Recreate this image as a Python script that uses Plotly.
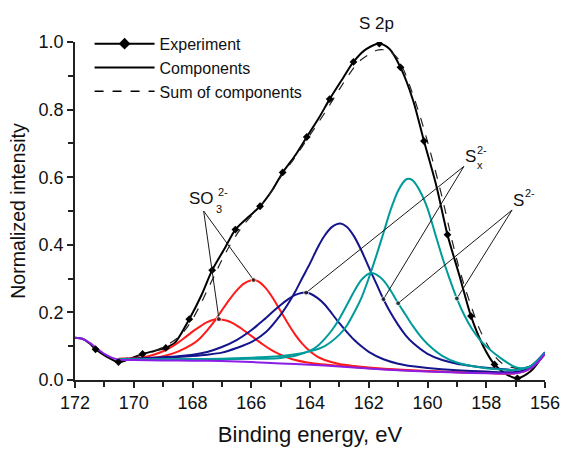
import plotly.graph_objects as go

# ---------------- data ----------------
bg_x = [172.0, 171.75, 171.5, 171.25, 171.0, 170.75, 170.5, 170.0, 169.0, 168.0, 167.0, 166.0,
        165.0, 164.0, 163.0, 162.0, 161.0, 160.0, 159.0, 158.0, 157.5, 157.0, 156.75, 156.5, 156.25, 156.0]
bg_y = [0.125, 0.122, 0.110, 0.093, 0.077, 0.066, 0.060, 0.059, 0.058, 0.057, 0.056, 0.053,
        0.049, 0.045, 0.040, 0.034, 0.029, 0.025, 0.022, 0.020, 0.019, 0.020, 0.024, 0.034, 0.052, 0.077]

red2_x = [170.5, 170.0, 169.5, 169.0, 168.5, 168.25, 168.0, 167.75, 167.5, 167.25, 167.1, 166.85, 166.6,
          166.35, 166.1, 165.85, 165.6, 165.35, 165.1, 164.6, 164.1, 163.1, 162.0, 160.0, 158.0, 157.0, 156.5, 156.0]
red2_y = [0.063, 0.0645, 0.0705, 0.085, 0.110, 0.126, 0.143, 0.158, 0.171, 0.179, 0.180, 0.176, 0.167,
          0.153, 0.137, 0.121, 0.105, 0.0905, 0.0787, 0.0613, 0.052, 0.0427, 0.035, 0.0256, 0.0204, 0.0203, 0.0343, 0.0772]

red1_x = [170.5, 170.0, 169.5, 169.0, 168.5, 168.0, 167.75, 167.5, 167.25, 167.0, 166.75, 166.5, 166.25, 166.0,
          165.92, 165.75, 165.5, 165.25, 165.0, 164.75, 164.5, 164.25, 164.0, 163.75, 163.5, 163.0, 162.5, 162.0,
          161.0, 160.0, 158.0, 157.0, 156.5, 156.0]
red1_y = [0.0627, 0.0626, 0.0645, 0.070, 0.084, 0.106, 0.123, 0.147, 0.174, 0.206, 0.237, 0.2645, 0.285, 0.295,
          0.2958, 0.291, 0.271, 0.2405, 0.204, 0.167, 0.1335, 0.106, 0.085, 0.069, 0.0593, 0.0473, 0.0413, 0.037,
          0.031, 0.0263, 0.0208, 0.0206, 0.0345, 0.0775]

navy2_x = [170.5, 170.0, 169.5, 169.0, 168.5, 168.0, 167.5, 167.0, 166.5, 166.0, 165.75, 165.5, 165.25, 165.0,
           164.75, 164.5, 164.25, 164.13, 164.0, 163.75, 163.5, 163.25, 163.0, 162.75, 162.5, 162.25, 162.0,
           161.5, 161.0, 160.5, 160.0, 159.0, 158.0, 157.0, 156.5, 156.0]
navy2_y = [0.062, 0.063, 0.065, 0.067, 0.070, 0.075, 0.083, 0.0975, 0.118, 0.147, 0.165, 0.1835, 0.2034, 0.222,
           0.2386, 0.2517, 0.258, 0.2585, 0.256, 0.243, 0.2235, 0.196, 0.168, 0.1425, 0.119, 0.0996, 0.0834,
           0.0613, 0.0482, 0.0404, 0.0354, 0.0288, 0.0249, 0.0236, 0.037, 0.0795]

navy1_x = [170.5, 170.0, 169.5, 169.0, 168.5, 168.0, 167.5, 167.0, 166.5, 166.0, 165.5, 165.0, 164.75, 164.5,
           164.25, 164.0, 163.75, 163.5, 163.25, 162.97, 162.75, 162.5, 162.25, 162.0, 161.75, 161.5, 161.25,
           161.0, 160.75, 160.5, 160.0, 159.5, 159.0, 158.5, 158.0, 157.5, 157.0, 156.5, 156.0]
navy1_y = [0.062, 0.063, 0.064, 0.066, 0.068, 0.071, 0.075, 0.081, 0.0947, 0.112, 0.142, 0.193, 0.225, 0.262,
           0.304, 0.345, 0.390, 0.4275, 0.453, 0.4628, 0.4535, 0.425, 0.383, 0.334, 0.2866, 0.239, 0.198,
           0.163, 0.133, 0.110, 0.0775, 0.059, 0.0482, 0.0417, 0.0365, 0.0325, 0.030, 0.040, 0.082]

teal2_x = [170.5, 170.0, 169.0, 168.0, 167.0, 166.0, 165.5, 165.0, 164.5, 164.0, 163.75, 163.5, 163.25, 163.0,
           162.75, 162.5, 162.25, 162.0, 161.9, 161.75, 161.5, 161.25, 161.0, 160.75, 160.5, 160.25, 160.0,
           159.5, 159.0, 158.5, 158.0, 157.5, 157.0, 156.5, 156.0]
teal2_y = [0.0623, 0.0615, 0.0614, 0.0615, 0.0622, 0.0626, 0.0632, 0.0654, 0.0716, 0.0869, 0.100, 0.1217, 0.148,
           0.1815, 0.221, 0.262, 0.296, 0.315, 0.3165, 0.3127, 0.2947, 0.264, 0.227, 0.1936, 0.160, 0.1307, 0.1065,
           0.0716, 0.0517, 0.0414, 0.035, 0.0312, 0.0299, 0.040, 0.080]

teal1_x = [170.5, 170.0, 169.0, 168.0, 167.0, 166.0, 165.5, 165.0, 164.5, 164.0, 163.5, 163.0, 162.75, 162.5,
           162.25, 162.0, 161.75, 161.5, 161.25, 161.0, 160.75, 160.63, 160.5, 160.25, 160.0, 159.75, 159.5,
           159.25, 159.0, 158.75, 158.5, 158.25, 158.0, 157.5, 157.0, 156.75, 156.5, 156.25, 156.0]
teal1_y = [0.061, 0.061, 0.061, 0.062, 0.063, 0.066, 0.068, 0.071, 0.0765, 0.0848, 0.1004, 0.1343, 0.1606, 0.199,
           0.243, 0.301, 0.3656, 0.435, 0.5046, 0.560, 0.592, 0.5955, 0.590, 0.558, 0.508, 0.436, 0.364,
           0.300, 0.241, 0.1925, 0.153, 0.1227, 0.0995, 0.064, 0.038, 0.035, 0.040, 0.056, 0.080]

exp_x = [172.0, 171.75, 171.5, 171.3, 170.9, 170.52, 170.1, 169.7, 169.3, 168.91, 168.6, 168.11, 167.7, 167.33,
         166.9, 166.54, 166.1, 165.7, 165.3, 164.93, 164.5, 164.11, 163.7, 163.33, 162.9, 162.52, 162.1, 161.64,
         161.3, 160.92, 160.5, 160.12, 159.7, 159.32, 158.9, 158.52, 158.1, 157.72, 157.3, 156.94, 156.5, 156.25, 156.0]
exp_y = [0.125, 0.122, 0.108, 0.091, 0.068, 0.053, 0.064, 0.077, 0.086, 0.095, 0.110, 0.180, 0.250, 0.325,
         0.390, 0.445, 0.482, 0.514, 0.560, 0.614, 0.665, 0.719, 0.775, 0.831, 0.890, 0.941, 0.978, 0.995,
         0.980, 0.925, 0.830, 0.707, 0.575, 0.430, 0.305, 0.189, 0.100, 0.046, 0.016, 0.005, 0.025, 0.050, 0.080]
exp_marker_idx = [3, 5, 7, 9, 11, 13, 15, 17, 19, 21, 23, 25, 27, 29, 31, 33, 35, 37, 39]

sum_x = [170.5, 170.0, 169.5, 169.0, 168.5, 168.25, 168.0, 167.75, 167.5, 167.25, 167.0, 166.75, 166.5, 166.25,
         166.0, 165.75, 165.5, 165.25, 165.0, 164.5, 164.0, 163.5, 163.0, 162.5, 162.25, 162.0, 161.75, 161.5,
         161.25, 161.0, 160.75, 160.5, 160.25, 160.0, 159.75, 159.5, 159.25, 159.0, 158.75, 158.5, 158.25, 158.0,
         157.75, 157.5, 157.25, 157.0, 156.75, 156.5, 156.25, 156.0]
sum_y = [0.060, 0.068, 0.080, 0.097, 0.125, 0.148, 0.180, 0.220, 0.265, 0.310, 0.355, 0.395, 0.430, 0.460,
         0.485, 0.510, 0.535, 0.565, 0.600, 0.660, 0.725, 0.790, 0.860, 0.925, 0.948, 0.963, 0.975, 0.977,
         0.970, 0.950, 0.905, 0.845, 0.780, 0.705, 0.625, 0.540, 0.445, 0.355, 0.280, 0.215, 0.155, 0.110,
         0.075, 0.052, 0.040, 0.035, 0.034, 0.038, 0.055, 0.080]

# label anchor (apex) points of the pointer lines, data coordinates
apex_so3 = (167.62, 0.50)
apex_sx = (158.76, 0.632)
apex_s2 = (157.12, 0.503)

x_ticks = [172, 170, 168, 166, 164, 162, 160, 158, 156]
y_ticks = [0.0, 0.2, 0.4, 0.6, 0.8, 1.0]

RED = "#ff1a1a"
NAVY = "#14148c"
TEAL = "#009a9a"
PURPLE = "#8a1ee6"
FONT = "Liberation Sans, Arial, sans-serif"

fig = go.Figure()

def comp(x, y, color):
    fig.add_trace(go.Scatter(x=x, y=y, mode="lines", line=dict(color=color, width=2, shape="spline", smoothing=0.8),
                             showlegend=False, hoverinfo="skip"))

# experiment line (under everything)
fig.add_trace(go.Scatter(x=exp_x, y=exp_y, mode="lines",
                         line=dict(color="black", width=2, shape="spline", smoothing=0.8),
                         showlegend=False, hoverinfo="skip"))
# sum of components
fig.add_trace(go.Scatter(x=sum_x, y=sum_y, mode="lines",
                         line=dict(color="#222222", width=1.2, dash="dash", shape="spline", smoothing=0.8),
                         showlegend=False, hoverinfo="skip"))
comp(red2_x, red2_y, RED)
comp(red1_x, red1_y, RED)
comp(navy2_x, navy2_y, NAVY)
comp(navy1_x, navy1_y, NAVY)
comp(teal2_x, teal2_y, TEAL)
comp(teal1_x, teal1_y, TEAL)
comp(bg_x, bg_y, PURPLE)

# experiment markers
fig.add_trace(go.Scatter(x=[exp_x[i] for i in exp_marker_idx], y=[exp_y[i] for i in exp_marker_idx],
                         mode="markers", marker=dict(symbol="diamond", size=6, color="black"),
                         showlegend=False, hoverinfo="skip"))

# pointer lines from the labels to the component curves
def pointer(apex, cx, cy, xval):
    i = cx.index(xval)
    fig.add_trace(go.Scatter(x=[apex[0], cx[i]], y=[apex[1], cy[i]], mode="lines+markers",
                             line=dict(color="#1a1a1a", width=1),
                             marker=dict(size=[0, 5], color="#1a1a1a"),
                             showlegend=False, hoverinfo="skip"))

pointer(apex_so3, red2_x, red2_y, 167.1)
pointer(apex_so3, red1_x, red1_y, 165.92)
pointer(apex_sx, navy2_x, navy2_y, 164.13)
pointer(apex_sx, navy1_x, navy1_y, 161.5)
pointer(apex_s2, teal2_x, teal2_y, 161.0)
pointer(apex_s2, teal1_x, teal1_y, 159.0)

# legend entries
fig.add_trace(go.Scatter(x=[None], y=[None], mode="lines+markers", name="Experiment",
                         line=dict(color="black", width=2), marker=dict(symbol="diamond", size=9, color="black")))
fig.add_trace(go.Scatter(x=[None], y=[None], mode="lines", name="Components",
                         line=dict(color="black", width=2)))
fig.add_trace(go.Scatter(x=[None], y=[None], mode="lines", name="Sum of components",
                         line=dict(color="black", width=1.5, dash="dash")))

ann = []
def label(text, x, y, size, ref="x"):
    ann.append(dict(x=x, y=y, xref="x" if ref == "x" else "paper", yref="y" if ref == "x" else "paper",
                    text=text, showarrow=False, xanchor="center", yanchor="middle",
                    font=dict(size=size, color="#111111", family=FONT)))

label("S 2p", 0.641, 1.054, 17, ref="paper")
label("SO", 167.683, 0.536, 17)
label("3", 167.10, 0.507, 11)
label("2-", 166.95, 0.557, 11)
label("S", 158.55, 0.660, 17)
label("x", 158.22, 0.636, 11)
label("2-", 158.15, 0.681, 11)
label("S", 156.9, 0.532, 17)
label("2-", 156.5, 0.552, 11)

axis_common = dict(showgrid=False, zeroline=False, showline=True, linecolor="#222222", linewidth=1.5,
                   ticks="outside", ticklen=6, tickwidth=1.5, tickcolor="#222222",
                   tickfont=dict(size=18, color="#111111", family=FONT), mirror=False)

fig.update_layout(
    width=572, height=455,
    margin=dict(l=75, r=18, t=42, b=67),
    paper_bgcolor="white", plot_bgcolor="white",
    font=dict(family=FONT, color="#111111"),
    xaxis=dict(range=[172, 156], tickvals=x_ticks, ticktext=[str(v) for v in x_ticks],
               minor=dict(dtick=1, ticklen=5, tickwidth=1.5, tickcolor="#222222", ticks="outside"),
               title=dict(text="Binding energy, eV", font=dict(size=22, family=FONT, color="#111111"), standoff=14),
               **axis_common),
    yaxis=dict(range=[0, 1.0], tickvals=y_ticks, ticktext=[f"{v:.1f}" for v in y_ticks],
               minor=dict(dtick=0.1, ticklen=5, tickwidth=1.5, tickcolor="#222222", ticks="outside"),
               title=dict(text="Normalized intensity", font=dict(size=19.5, family=FONT, color="#111111"), standoff=8),
               **axis_common),
    legend=dict(x=0.031, y=1.045, xanchor="left", yanchor="top", bgcolor="rgba(0,0,0,0)",
                font=dict(size=16, family=FONT, color="#111111"), tracegroupgap=0, itemwidth=60),
    annotations=ann,
)

fig.write_html("out.html")
